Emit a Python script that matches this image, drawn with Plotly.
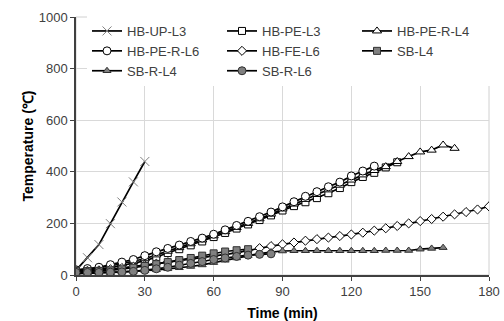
import plotly.graph_objects as go

# ---------------- data ----------------
t_hb_up_l3 = [0, 5, 10, 15, 20, 25, 30]
v_hb_up_l3 = [18, 67, 118, 199, 283, 361, 440]

t_hb_pe_l3 = list(range(0, 145, 5))
v_hb_pe_l3 = [15, 18, 22, 28, 36, 45, 55, 70, 85, 100, 115, 130, 147, 163, 180,
              196, 213, 231, 250, 267, 282, 298, 317, 337, 360, 380, 396, 417, 437]

t_hb_pe_r_l4 = list(range(0, 170, 5))
v_hb_pe_r_l4 = [18, 22, 28, 35, 44, 53, 63, 78, 92, 106, 121, 136, 152, 168, 184,
                200, 218, 236, 256, 275, 293, 312, 330, 348, 368, 388, 405, 420,
                440, 459, 477, 484, 504, 491]

t_hb_pe_r_l6 = list(range(0, 135, 5))
v_hb_pe_r_l6 = [20, 25, 30, 40, 50, 60, 75, 90, 103, 116, 130, 143, 158, 175, 192,
                208, 226, 244, 264, 284, 305, 323, 342, 360, 384, 403, 422]

t_hb_fe_l6 = list(range(0, 185, 5))
v_hb_fe_l6 = [15, 16, 18, 22, 27, 32, 38, 44, 50, 56, 62, 68, 74, 80, 86, 95, 104,
              112, 119, 126, 133, 139, 145, 151, 157, 164, 172, 181, 190, 200, 209,
              217, 226, 235, 244, 254, 266]

t_sb_l4 = list(range(0, 80, 5))
v_sb_l4 = [15, 15, 16, 18, 22, 28, 35, 42, 50, 58, 66, 75, 84, 91, 96, 100]

t_sb_r_l4 = list(range(0, 165, 5))
v_sb_r_l4 = [5, 6, 7, 9, 12, 14, 17, 20, 24, 28, 33, 39, 48, 57, 66, 75, 83, 89,
             93, 94, 94, 94, 94, 94, 94, 94, 94, 95, 95, 95, 100, 103, 106]

t_sb_r_l6 = list(range(0, 90, 5))
v_sb_r_l6 = [10, 10, 10, 11, 12, 14, 18, 24, 30, 38, 45, 52, 60, 66, 72, 77, 80, 82]

names = ["HB-UP-L3", "HB-PE-L3", "HB-PE-R-L4", "HB-PE-R-L6",
         "HB-FE-L6", "SB-L4", "SB-R-L4", "SB-R-L6"]

x_ticks = [0, 30, 60, 90, 120, 150, 180]
y_ticks = [0, 200, 400, 600, 800, 1000]

# ---------------- styles ----------------
GRAY = "#808080"
series = [
    (t_hb_up_l3, v_hb_up_l3, dict(symbol="x-thin-open", size=9, color=GRAY,
                                  line=dict(color=GRAY, width=1))),
    (t_hb_pe_l3, v_hb_pe_l3, dict(symbol="square", size=7, color="white",
                                  line=dict(color="#000000", width=1))),
    (t_hb_pe_r_l4, v_hb_pe_r_l4, dict(symbol="triangle-up", size=8, color="white",
                                      line=dict(color="#000000", width=1))),
    (t_hb_pe_r_l6, v_hb_pe_r_l6, dict(symbol="circle", size=8, color="white",
                                      line=dict(color="#000000", width=1))),
    (t_hb_fe_l6, v_hb_fe_l6, dict(symbol="diamond", size=7, color="white",
                                  line=dict(color="#000000", width=1))),
    (t_sb_l4, v_sb_l4, dict(symbol="square", size=7, color=GRAY,
                            line=dict(color="#303030", width=1))),
    (t_sb_r_l4, v_sb_r_l4, dict(symbol="triangle-up", size=7, color=GRAY,
                                line=dict(color="#303030", width=1))),
    (t_sb_r_l6, v_sb_r_l6, dict(symbol="circle", size=8, color=GRAY,
                                line=dict(color="#303030", width=1))),
]

fig = go.Figure()
for name, (xs, ys, mk) in zip(names, series):
    fig.add_trace(go.Scatter(
        x=xs, y=ys, name=name, mode="lines+markers",
        line=dict(color="#000000", width=1.7),
        marker=mk,
    ))

FONT = "Liberation Sans, Arial, sans-serif"
fig.update_layout(
    width=504, height=321,
    margin=dict(l=76, r=15, t=17, b=46, autoexpand=False),
    paper_bgcolor="white", plot_bgcolor="white",
    font=dict(family=FONT, size=13, color="#404040"),
    showlegend=True,
    legend=dict(
        orientation="h", xref="container", yref="container",
        x=87 / 504, y=1 - 16 / 321, xanchor="left", yanchor="top",
        entrywidth=90, entrywidthmode="pixels",
        bgcolor="white", borderwidth=0,
        font=dict(family=FONT, size=13, color="#404040"),
        itemwidth=30, tracegroupgap=0,
    ),
    xaxis=dict(
        range=[0, 180], tickvals=x_ticks, ticktext=[str(v) for v in x_ticks],
        showgrid=True, gridcolor="#d9d9d9", gridwidth=1,
        showline=True, linecolor="#404040", linewidth=1.5,
        ticks="outside", ticklen=4, tickcolor="#404040",
        zeroline=False, automargin=False,
        title=dict(text="<b>Time (min)</b>", font=dict(family=FONT, size=14, color="#000000"),
                   standoff=12),
        tickfont=dict(family=FONT, size=13, color="#404040"),
    ),
    yaxis=dict(
        range=[0, 1000], tickvals=y_ticks, ticktext=[str(v) for v in y_ticks],
        showgrid=True, gridcolor="#d9d9d9", gridwidth=1,
        showline=True, linecolor="#404040", linewidth=1.5,
        ticks="outside", ticklen=4, tickcolor="#404040",
        zeroline=False, automargin=False,
        title=dict(text="<b>Temperature (℃)</b>", font=dict(family=FONT, size=14, color="#000000"),
                   standoff=2),
        tickfont=dict(family=FONT, size=13, color="#404040"),
    ),
    shapes=[dict(type="rect", xref="paper", yref="paper", x0=0, y0=0, x1=1, y1=1,
                 line=dict(color="#d0d0d0", width=1), layer="below")],
)

fig.write_html("out.html", config={"displayModeBar": False},
               post_script="document.body.style.margin='0';document.body.style.overflow='hidden';")
